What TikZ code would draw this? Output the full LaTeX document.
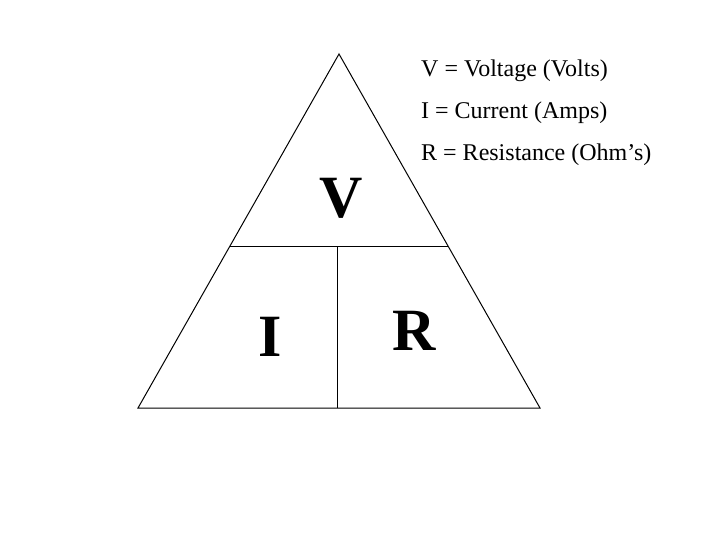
\documentclass[tikz,border=0pt]{standalone}
\usepackage{fontspec}
\setmainfont{Liberation Serif}
\usetikzlibrary{positioning}

\tikzset{
  edge/.style={draw=black,line width=1pt},
  big/.style={font=\fontsize{60}{60}\selectfont\bfseries,inner sep=0pt,anchor=base},
  legend/.style={font=\fontsize{24}{27}\selectfont,inner sep=0pt,anchor=base west}
}

\begin{document}
\begin{tikzpicture}[x=1pt,y=-1pt]
    \useasboundingbox[fill=white] (0,0) rectangle (720,540);
    % triangle corners
    \coordinate (top) at (339,54);
    \coordinate (bl) at (138,408);
    \coordinate (br) at (540,408);
    \coordinate (ml) at (230,246);
    \coordinate (mr) at (448,246);
    \coordinate (mt) at (337,246);
    \coordinate (mb) at (337,408);
    \draw[edge] (top) -- (bl) -- (br) -- cycle;
    \draw[edge] (ml) -- (mr);
    \draw[edge] (mt) -- (mb);
    % letters
    \node[big] (volt) at (341,218) {V};
    \node[big] (amp) at (270,356) {I};
    \node[big] (ohm) at (414,350) {R};
    % legend
    \node[legend] (lv) at (421,77) {V = Voltage (Volts)};
    \node[legend] (li) at (421,119) {I = Current (Amps)};
    \node[legend] (lr) at (421,161) {R = Resistance (Ohm’s)};
  \end{tikzpicture}
\end{document}
